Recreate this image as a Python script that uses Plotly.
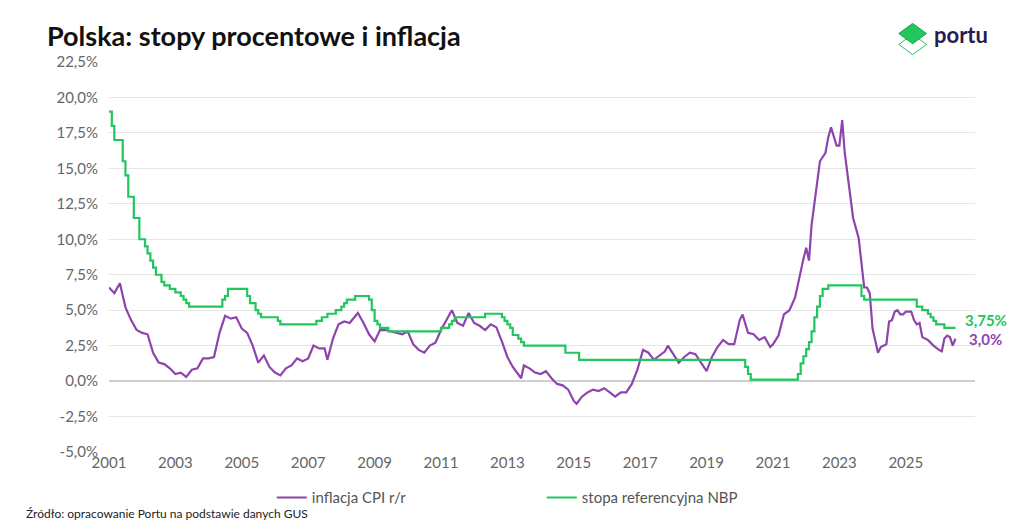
import plotly.graph_objects as go

# inflacja CPI r/r (approximate readings)
cpi_dates = ["2001-01", "2001-03", "2001-05", "2001-07", "2001-09", "2001-11", "2002-01", "2002-03", "2002-05", "2002-07",
             "2002-09", "2002-11", "2003-01", "2003-03", "2003-05", "2003-07", "2003-09", "2003-11", "2004-01", "2004-03",
             "2004-05", "2004-07", "2004-09", "2004-11", "2005-01", "2005-03", "2005-05", "2005-07", "2005-09", "2005-11",
             "2006-01", "2006-03", "2006-05", "2006-07", "2006-09", "2006-11", "2007-01", "2007-03", "2007-05", "2007-07",
             "2007-08", "2007-10", "2007-12", "2008-02", "2008-04", "2008-06", "2008-07", "2008-09", "2008-11", "2009-01",
             "2009-03", "2009-05", "2009-07", "2009-09", "2009-11", "2010-01", "2010-03", "2010-05", "2010-07", "2010-09",
             "2010-11", "2011-01", "2011-03", "2011-05", "2011-07", "2011-09", "2011-11", "2012-01", "2012-03", "2012-05",
             "2012-07", "2012-09", "2012-11", "2013-01", "2013-03", "2013-05", "2013-06", "2013-07", "2013-09", "2013-11",
             "2014-01", "2014-03", "2014-05", "2014-07", "2014-09", "2014-11", "2015-01", "2015-02", "2015-04", "2015-06",
             "2015-08", "2015-10", "2015-12", "2016-02", "2016-04", "2016-06", "2016-08", "2016-10", "2016-12", "2017-02",
             "2017-04", "2017-06", "2017-08", "2017-10", "2017-11", "2018-01", "2018-03", "2018-05", "2018-07", "2018-09",
             "2018-11", "2019-01", "2019-03", "2019-05", "2019-07", "2019-09", "2019-11", "2020-01", "2020-02", "2020-04",
             "2020-06", "2020-08", "2020-10", "2020-12", "2021-01", "2021-03", "2021-05", "2021-07", "2021-09", "2021-11",
             "2021-12", "2022-01", "2022-02", "2022-03", "2022-05", "2022-06", "2022-08", "2022-09", "2022-10", "2022-12",
             "2023-01", "2023-02", "2023-03", "2023-05", "2023-06", "2023-08", "2023-09", "2023-10", "2023-11", "2023-12",
             "2024-01", "2024-03", "2024-04", "2024-06", "2024-07", "2024-08", "2024-09", "2024-10", "2024-11", "2024-12",
             "2025-01", "2025-03", "2025-04", "2025-05", "2025-06", "2025-07", "2025-09", "2025-11", "2026-01", "2026-02",
             "2026-03", "2026-04", "2026-05", "2026-06", "2026-07"]
cpi_values = [6.6, 6.2, 6.9, 5.2, 4.3, 3.6, 3.4, 3.3, 2.0, 1.3,
              1.2, 0.9, 0.5, 0.6, 0.3, 0.8, 0.9, 1.6, 1.6, 1.7,
              3.4, 4.6, 4.4, 4.5, 3.7, 3.4, 2.5, 1.3, 1.8, 1.0,
              0.6, 0.4, 0.9, 1.1, 1.6, 1.4, 1.6, 2.5, 2.3, 2.3,
              1.5, 3.0, 4.0, 4.2, 4.1, 4.6, 4.8, 4.1, 3.3, 2.8,
              3.6, 3.6, 3.5, 3.4, 3.3, 3.5, 2.6, 2.2, 2.0, 2.5,
              2.7, 3.6, 4.3, 5.0, 4.1, 3.9, 4.8, 4.1, 3.9, 3.6,
              4.0, 3.8, 2.8, 1.7, 1.0, 0.5, 0.2, 1.1, 0.9, 0.6,
              0.5, 0.7, 0.2, -0.2, -0.3, -0.6, -1.4, -1.6, -1.1, -0.8,
              -0.6, -0.7, -0.5, -0.8, -1.1, -0.8, -0.8, -0.2, 0.8, 2.2,
              2.0, 1.5, 1.8, 2.1, 2.5, 1.9, 1.3, 1.7, 2.0, 1.9,
              1.3, 0.7, 1.7, 2.4, 2.9, 2.6, 2.6, 4.3, 4.7, 3.4,
              3.3, 2.9, 3.1, 2.4, 2.6, 3.2, 4.7, 5.0, 5.9, 7.8,
              8.6, 9.4, 8.5, 11.0, 13.9, 15.5, 16.1, 17.2, 17.9, 16.6,
              16.6, 18.4, 16.1, 13.0, 11.5, 10.1, 8.2, 6.6, 6.6, 6.2,
              3.7, 2.0, 2.4, 2.6, 4.2, 4.3, 4.9, 5.0, 4.7, 4.7,
              4.9, 4.9, 4.3, 4.0, 4.1, 3.1, 2.9, 2.5, 2.2, 2.1,
              3.0, 3.2, 3.1, 2.5, 3.0]

# stopa referencyjna NBP (decision dates)
rate_dates = ["2001-01", "2001-02", "2001-03", "2001-06", "2001-07", "2001-08", "2001-10", "2001-12", "2002-02", "2002-03",
              "2002-04", "2002-05", "2002-06", "2002-08", "2002-09", "2002-11", "2003-01", "2003-03", "2003-04", "2003-05",
              "2003-06", "2003-07", "2004-06", "2004-07", "2004-08", "2005-03", "2005-04", "2005-06", "2005-07", "2005-08",
              "2006-02", "2006-03", "2007-04", "2007-06", "2007-08", "2007-11", "2008-01", "2008-02", "2008-03", "2008-06",
              "2008-11", "2008-12", "2009-01", "2009-02", "2009-03", "2009-06", "2011-01", "2011-04", "2011-05", "2011-06",
              "2012-05", "2012-11", "2012-12", "2013-01", "2013-02", "2013-03", "2013-05", "2013-06", "2013-07", "2014-10",
              "2015-03", "2020-03", "2020-04", "2020-05", "2021-10", "2021-11", "2021-12", "2022-01", "2022-02", "2022-03",
              "2022-04", "2022-05", "2022-06", "2022-07", "2022-09", "2023-09", "2023-10", "2025-05", "2025-07", "2025-09",
              "2025-10", "2025-11", "2025-12", "2026-03", "2026-07"]
rate_values = [19.0, 18.0, 17.0, 15.5, 14.5, 13.0, 11.5, 10.0, 9.5, 9.0,
               8.5, 8.0, 7.5, 7.0, 6.75, 6.5, 6.25, 6.0, 5.75, 5.5,
               5.25, 5.25, 5.75, 6.0, 6.5, 6.0, 5.5, 5.0, 4.75, 4.5,
               4.25, 4.0, 4.25, 4.5, 4.75, 5.0, 5.25, 5.5, 5.75, 6.0,
               5.75, 5.0, 4.25, 4.0, 3.75, 3.5, 3.75, 4.0, 4.25, 4.5,
               4.75, 4.5, 4.25, 4.0, 3.75, 3.25, 3.0, 2.75, 2.5, 2.0,
               1.5, 1.0, 0.5, 0.1, 0.5, 1.25, 1.75, 2.25, 2.75, 3.5,
               4.5, 5.25, 6.0, 6.5, 6.75, 6.0, 5.75, 5.25, 5.0, 4.75,
               4.5, 4.25, 4.0, 3.75, 3.75]

y_ticks = [-5 + 2.5 * i for i in range(12)]
y_labels = [f"{v:.1f}%".replace(".", ",") for v in y_ticks]
x_ticks = [f"{y}-01-01" for y in range(2001, 2027, 2)]
x_labels = [str(y) for y in range(2001, 2027, 2)]

purple = "#8e44ad"
green = "#22c55e"

fig = go.Figure()
fig.add_trace(go.Scatter(x=cpi_dates, y=cpi_values, mode="lines", name="inflacja CPI r/r",
                         line=dict(color=purple, width=2.2)))
fig.add_trace(go.Scatter(x=rate_dates, y=rate_values, mode="lines", name="stopa referencyjna NBP",
                         line=dict(color=green, width=2.2, shape="hv")))

fig.add_annotation(x=rate_dates[-1], y=rate_values[-1], text="<b>3,75%</b>", showarrow=False,
                   xanchor="left", xshift=8, yshift=8, font=dict(color=green, size=15))
fig.add_annotation(x=cpi_dates[-1], y=cpi_values[-1], text="<b>3,0%</b>", showarrow=False,
                   xanchor="left", xshift=12, yshift=0, font=dict(color=purple, size=15))

fig.add_annotation(x=-0.074, y=1.115, xref="paper", yref="paper", xanchor="left", yanchor="top",
                   text="<b>Polska: stopy procentowe i inflacja</b>", showarrow=False,
                   font=dict(size=27, color="#111"))
fig.add_annotation(x=-0.098, y=-0.183, xref="paper", yref="paper", xanchor="left", yanchor="bottom",
                   text="Źródło: opracowanie Portu na podstawie danych GUS", showarrow=False,
                   font=dict(size=12, color="#222"))

# logo
fig.add_shape(type="path", xref="paper", yref="paper",
              path="M 0.912 1.045 L 0.928 1.071 L 0.944 1.045 L 0.928 1.019 Z",
              line=dict(color=green, width=1), fillcolor="rgba(0,0,0,0)")
fig.add_shape(type="path", xref="paper", yref="paper",
              path="M 0.912 1.073 L 0.928 1.099 L 0.944 1.073 L 0.928 1.047 Z",
              line=dict(color="#16a34a", width=1), fillcolor=green)
fig.add_annotation(x=0.950, y=1.071, xref="paper", yref="paper", xanchor="left", yanchor="middle",
                   text="<b>portu</b>", showarrow=False, font=dict(size=22, color="#2b1b4d"))

fig.update_layout(
    width=1024, height=524,
    paper_bgcolor="white", plot_bgcolor="white",
    font=dict(family="Lato, Open Sans, sans-serif", color="#666", size=14),
    margin=dict(l=101, r=57, t=54, b=80),
    showlegend=True,
    legend=dict(orientation="h", x=0.188, y=-0.075, xanchor="left", yanchor="top",
                font=dict(size=15, color="#555"), entrywidth=225),
)
fig.update_xaxes(range=["2001-01-01", "2027-02-01"], tickvals=x_ticks, ticktext=x_labels,
                 showgrid=False, showline=False, ticks="", tickfont=dict(size=15),
                 ticklabelstandoff=0)
fig.update_yaxes(range=[-5, 22.5], tickvals=y_ticks, ticktext=y_labels, showgrid=True,
                 gridcolor="#e6e6e6", zeroline=True, zerolinecolor="#d0d0d0", zerolinewidth=1.5,
                 tickfont=dict(size=15), ticks="", ticklabelstandoff=10)

fig.write_html("out.html")
